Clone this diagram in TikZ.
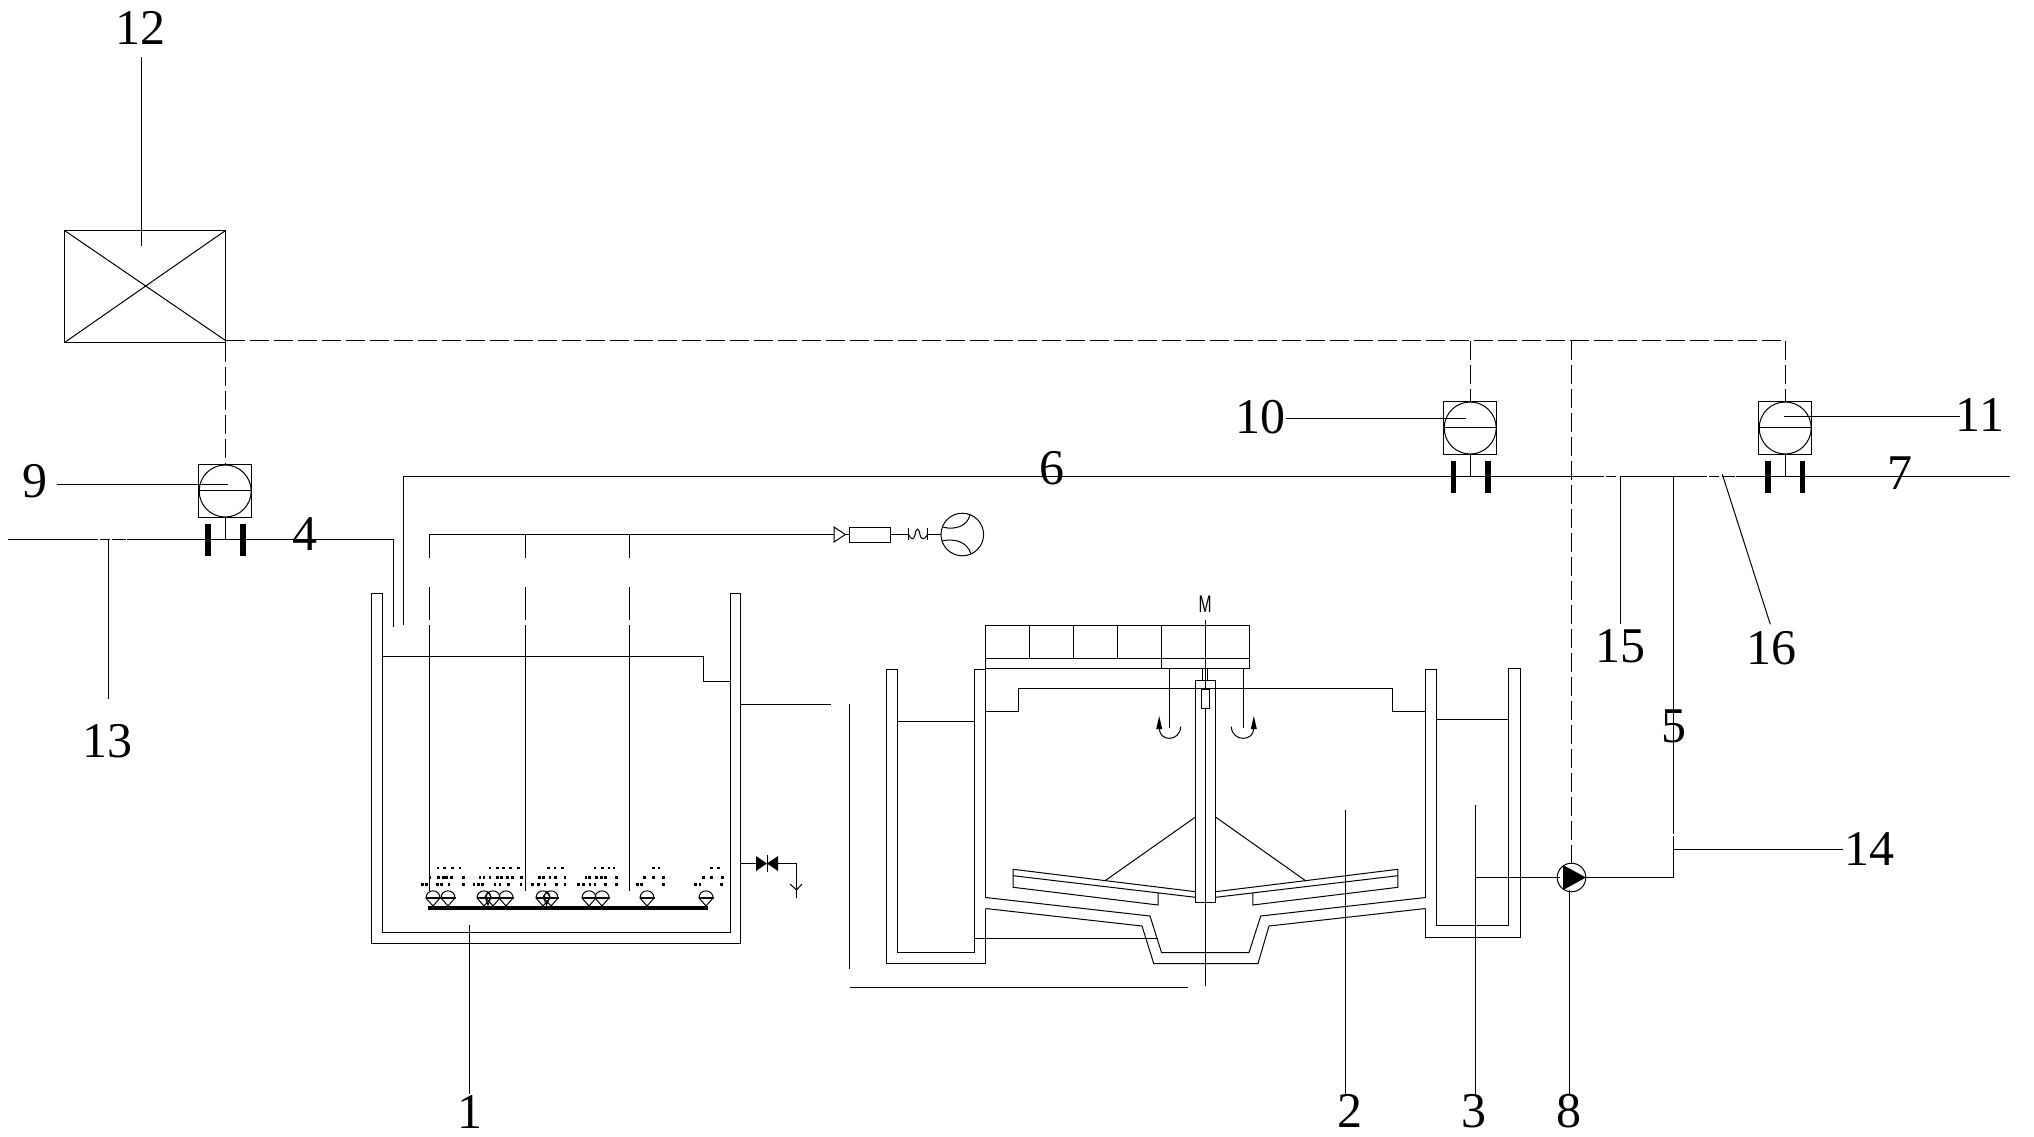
\documentclass[tikz,border=0pt]{standalone}
\usepackage{fontspec}
\setmainfont{Liberation Serif}
\newfontfamily\msans{Liberation Sans}
\tikzset{
  ln/.style={line width=0.5pt,draw=black},
  dsh/.style={line width=0.5pt,draw=black,dash pattern=on 9.5pt off 2.5pt},
  lbl/.style={inner sep=0pt,font=\fontsize{25}{25}\selectfont},
  barfill/.style={fill=black,draw=none}
}
\newcommand{\diffu}[1]{\draw[ln] ({#1-7},898) .. controls ({#1-7},888.5) and ({#1+7},888.5) .. ({#1+7},898) -- (#1,906) -- cycle; \draw[line width=0.7pt] ({#1-7.5},898) -- ({#1+7.5},898);}
\newcommand{\sensor}[4]{% cx, barL, barR, ytop
  \draw[ln] ({#1-27},#4) rectangle ({#1+26},{#4+53});
  \draw[ln] ({#1-0.3},{#4+26.5}) circle[radius=13pt];
  \draw[ln] ({#1-27},{#4+26}) -- ({#1+26},{#4+26});
  \draw[ln] (#1,{#4+53}) -- (#1,{#4+75});
  \fill[barfill] ({#2-2.7},{#4+59}) rectangle ({#2+2.7},{#4+91});
  \fill[barfill] ({#3-2.7},{#4+59}) rectangle ({#3+2.7},{#4+91});
}
\begin{document}
\begin{tikzpicture}[x=0.5pt,y=-0.5pt]
\useasboundingbox (0,0) rectangle (2034,1136);
\fill[white] (0,0) rectangle (2034,1136);

% control box 12
\node[lbl] (n12) at (140.7,28) {12};
\draw[ln] (64.5,230.5) rectangle (225.5,342.5);
\draw[ln] (64.5,230.5) -- (225.5,340.5) (64.5,342.5) -- (225.5,230.5);
\draw[ln] (141.5,56.5) -- (141.5,245.5);

% dashed signal lines
\draw[dsh] (225.5,340.5) -- (1785.5,340.5);
\draw[dsh] (225.5,342.5) -- (225.5,464.5);
\draw[dsh] (1470.5,340.5) -- (1470.5,401.5);
\draw[dsh] (1785.5,340.5) -- (1785.5,401.5);
\draw[dsh] (1571.5,340.5) -- (1571.5,863);

% pipes
\draw[ln] (8,539.5) -- (98,539.5) (100,539.5) -- (110,539.5) (112,539.5) -- (126,539.5) (127,539.5) -- (393.5,539.5) -- (393.5,627);
\draw[ln] (403.5,625) -- (403.5,476.5) -- (1604,476.5) (1606,476.5) -- (1616,476.5) (1620.5,624) -- (1620.5,476.5) -- (1707,476.5) (1708.5,476.5) -- (1719,476.5) (1722,476.5) -- (1735,476.5) (1736,476.5) -- (2010,476.5);
\draw[ln] (1673.5,476.5) -- (1673.5,834) (1673.5,836) -- (1673.5,877.5) -- (1585,877.5);
\draw[ln] (1673.5,849.5) -- (1843,849.5);
\draw[ln] (1475.5,877.5) -- (1560,877.5);

% sensors
\sensor{225.5}{208}{243}{464.5}
\sensor{1470.5}{1453.5}{1488}{401.5}
\sensor{1785.5}{1768}{1802.5}{401.5}

% tank 1
\draw[ln] (371.5,593.5) -- (382.5,593.5) -- (382.5,932.5) -- (730.5,932.5) -- (730.5,593.5) -- (740.5,593.5) -- (740.5,943.5) -- (371.5,943.5) -- cycle;
\draw[ln] (382.5,656.5) -- (703.5,656.5) -- (703.5,681.5) -- (730.5,681.5);
\draw[ln] (740.5,704.5) -- (831,704.5);

% air system
\draw[ln] (429.5,558) -- (429.5,534.5) -- (834,534.5);
\draw[ln] (525.5,534.5) -- (525.5,558);
\draw[ln] (629.5,534.5) -- (629.5,558);
\foreach \x in {429.5,525.5,629.5}{
  \draw[ln] (\x,587) -- (\x,620);
  \draw[ln] (\x,625) -- (\x,891);
}
\fill[black] (428,906) rectangle (708,910);
\draw[ln] (834,527) -- (845.3,534.5) -- (834,542) -- cycle;
\draw[ln] (845.3,534.5) -- (849.5,534.5);
\draw[ln] (849.5,527.5) rectangle (890.5,542.5);
\draw[ln] (890.5,534.5) -- (908.5,534.5);
\draw[ln] (908.5,528) -- (908.5,540);
\draw[ln] (927.5,528) -- (927.5,540);
\draw[ln] (908.5,534.5) .. controls (911,540) and (914,540) .. (915,535) .. controls (916,527) and (919,527) .. (920,535) .. controls (921,540) and (925,540) .. (927.5,534.5);
\draw[ln] (927.5,534.5) -- (941,534.5);
\draw[ln] (962.3,534.5) circle[radius=10.65pt];
\draw[ln] (943.3,527.3) .. controls (956,530) and (967,526) .. (970,515);
\draw[ln] (941.7,541) .. controls (955,538) and (967,542) .. (970.7,553.3);

% diffusers
\foreach \c in {433,448,484,493,506,543,551,589,602,647,706}{\diffu{\c}}
\draw[ln] (488,892) -- (491,897) -- (488,905) -- (485,897) -- cycle;
\draw[ln] (546.5,892) -- (550,897) -- (546.5,905) -- (543,897) -- cycle;

% bubbles
\foreach \x in {84,104,128,150,240,262,280,302,325,415,435,458,555,578,597,612,730,747,905,925}
  {\fill[black] ({410+\x/3-1.2},866.8) rectangle ({410+\x/3+1.2},869.3);}
\foreach \x in {60,85,100,110,125,160,210,222,240,262,275,292,308,335,388,400,420,437,465,528,538,560,575,587,620,703,730,760,880,905,937}
  {\fill[black] ({410+\x/3-1.2},876) rectangle ({410+\x/3+1.2},878.5);}
\foreach \x in {38,50,82,95,117,160,192,205,218,255,270,295,333,368,385,405,440,465,505,520,540,555,587,620,682,695,760,857,870,935}
  {\fill[black] ({410+\x/3-1.2},883) rectangle ({410+\x/3+1.2},885.5);}

% drain valve
\draw[ln] (740.5,863.5) -- (756,863.5);
\fill[black] (756,856) -- (767,863.5) -- (756,871) -- cycle;
\fill[black] (778,856) -- (767,863.5) -- (778,871) -- cycle;
\draw[ln] (767.5,855) -- (767.5,872);
\draw[ln] (778,863.5) -- (796.5,863.5) -- (796.5,898);
\draw[ln] (790,884) -- (796.5,890) -- (802,884);

% outlet wall + bottom
\draw[ln] (849.5,704) -- (849.5,969);
\draw[ln] (849.5,987.5) -- (1188,987.5);

% clarifier left channel
\draw[ln] (985.5,908.5) -- (985.5,963.5) -- (886.5,963.5) -- (886.5,669.5) -- (897.5,669.5) -- (897.5,952.5) -- (974.5,952.5) -- (974.5,669.5) -- (985.5,669.5) -- (985.5,897.5);
\draw[ln] (897.5,721.5) -- (974.5,721.5);
\draw[ln] (974.5,938.5) -- (1157.5,938.5);

% cone floor
\draw[ln] (985.5,897.5) -- (1150,916) -- (1161.5,952.5) -- (1249,952.5) -- (1260.7,916) -- (1425.5,897.5);
\draw[ln] (985.5,908.5) -- (1142,926) -- (1153.7,963.5) -- (1258,963.5) -- (1269,926) -- (1425.5,908.5);

% right channel
\draw[ln] (1425.5,897.5) -- (1425.5,669.5) -- (1436.5,669.5) -- (1436.5,925.5) -- (1508.5,925.5) -- (1508.5,668.5) -- (1520.5,668.5) -- (1520.5,937.5) -- (1425.5,937.5) -- (1425.5,908.5);
\draw[ln] (1436.5,719.5) -- (1508.5,719.5);

% walkway
\draw[ln] (985.5,625.5) rectangle (1249.5,668.5);
\draw[ln] (985.5,658.5) -- (1249.5,658.5);
\foreach \x in {1029.5,1073.5,1117.5}{\draw[ln] (\x,625.5) -- (\x,658.5);}
\draw[ln] (1161.5,625.5) -- (1161.5,668.5);

% water
\draw[ln] (985.5,711.5) -- (1018.5,711.5) -- (1018.5,688.5) -- (1392.5,688.5) -- (1392.5,711.5) -- (1425.5,711.5);

% shaft
\draw[ln] (1195.5,680.5) rectangle (1215.5,902.5);
\fill[white] (1201.5,689.5) rectangle (1209.5,708.5);
\draw[ln] (1201.5,689.5) rectangle (1209.5,708.5);
\draw[ln] (1202.5,668.5) -- (1202.5,680.5);
\draw[ln] (1207.5,668.5) -- (1207.5,680.5);
\draw[ln] (1205.5,620) -- (1205.5,689.5) (1205.5,708.5) -- (1205.5,986);
\node[inner sep=0pt,font=\msans\fontsize{12}{12}\selectfont] (nM) at (1205,604) {\scalebox{0.65}[1]{M}};

% stirrer hangers
\draw[ln] (1169.5,668.5) -- (1169.5,728);
\draw[ln] (1243.5,668.5) -- (1243.5,728);
\draw[ln] (1180.7,726.7) .. controls (1180,742) and (1159,742) .. (1159.3,728);
\draw[ln] (1231.3,726.7) .. controls (1232,742) and (1254,742) .. (1253.7,728);
\fill[black] (1159.2,716) -- (1162.2,729) -- (1156.2,729) -- cycle;
\fill[black] (1253.8,716) -- (1256.8,729) -- (1250.8,729) -- cycle;

% rake
\draw[ln] (1195.5,817) -- (1104.6,881);
\draw[ln] (1215.5,817) -- (1306,881);
\draw[ln] (1195.5,891.7) -- (1013.2,869.3) -- (1013.2,887.3) -- (1158.2,905) -- (1158.2,893);
\draw[ln] (1013.2,875.7) -- (1195.5,897.3);
\draw[ln] (1215.5,891.7) -- (1397.8,869.3) -- (1397.8,887.3) -- (1252.8,905) -- (1252.8,893);
\draw[ln] (1397.8,875.7) -- (1215.5,897.3);

% pump
\draw[ln] (1571.5,877.5) circle[radius=7.15pt];
\fill[black] (1563,865) -- (1586,877.5) -- (1563,890) -- cycle;

% leader lines
\draw[ln] (56.5,484.5) -- (227.5,484.5);
\draw[ln] (1286,418.5) -- (1465.5,418.5);
\draw[ln] (1783.5,416.5) -- (1960,416.5);
\draw[ln] (108.5,539.5) -- (108.5,699);
\draw[ln] (469.5,925) -- (469.5,1094);
\draw[ln] (1345.5,810) -- (1345.5,1094);
\draw[ln] (1475.5,805) -- (1475.5,1094);
\draw[ln] (1569.5,890) -- (1569.5,1094);
\draw[ln] (1722.3,474.3) -- (1770.3,624.3);

% labels
\node[lbl] (n9) at (35,481) {9};
\node[lbl] (n4) at (305,534) {4};
\node[lbl] (n6) at (1052,468) {6};
\node[lbl] (n13) at (107,741) {13};
\node[lbl] (n1) at (470,1112) {1};
\node[lbl] (n2) at (1350,1111) {2};
\node[lbl] (n3) at (1474,1111) {3};
\node[lbl] (n8) at (1569,1111) {8};
\node[lbl] (n5) at (1674,726) {5};
\node[lbl] (n15) at (1620,646) {15};
\node[lbl] (n16) at (1771.7,648) {16};
\node[lbl] (n14) at (1869,849) {14};
\node[lbl] (n10) at (1260,417) {10};
\node[lbl] (n11) at (1980,415) {11};
\node[lbl] (n7) at (1900,473) {7};
\end{tikzpicture}
\end{document}
